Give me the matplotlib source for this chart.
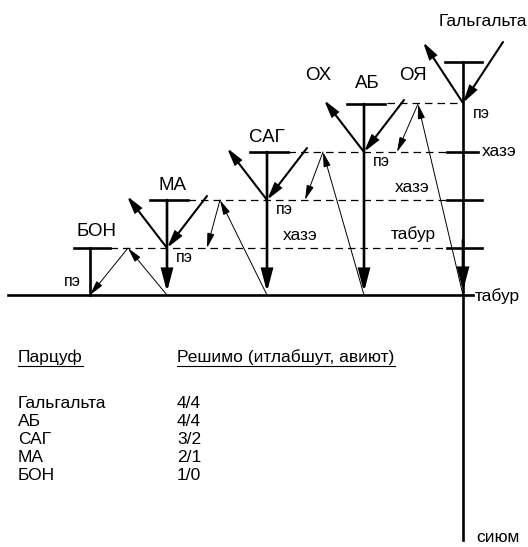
import matplotlib.pyplot as plt
from matplotlib.patches import FancyArrowPatch

plt.rcParams['font.family'] = ['Liberation Sans', 'DejaVu Sans']

# Table data
names = ['Гальгальта', 'АБ', 'САГ', 'МА', 'БОН']
reshimo = ['4/4', '4/4', '3/2', '2/1', '1/0']
col_titles = ['Парцуф', 'Решимо (итлабшут, авиют)']

# Diagram: partzufim (x of axis, y of top, y of pe)
parts = ['БОН', 'МА', 'САГ', 'АБ', 'Гальгальта']
part_x = [90, 167, 267, 364, 463]
part_top = [248, 200, 152, 104, 62]
part_pe = [295, 248, 200, 152, 103]

fig = plt.figure(figsize=(5.28, 5.47), dpi=100)
ax = fig.add_axes([0, 0, 1, 1])
ax.set_xlim(0, 528)
ax.set_ylim(547, 0)
ax.axis('off')

thick = 1.9
thin = 0.7


def arrow(p0, p1, lw, hl, hw):
    a = FancyArrowPatch(p0, p1, arrowstyle=f'-|>,head_length={hl},head_width={hw}',
                        lw=lw, color='black', shrinkA=0, shrinkB=0, joinstyle='miter')
    ax.add_patch(a)


# baseline (tabur)
ax.plot([8, 473], [295, 295], color='black', lw=thick)

# Galgalta line down to sium
ax.plot([463, 463], [62, 540], color='black', lw=thick)
arrow((463, 240), (463, 291), thick, 13, 3.4)

# ticks on Galgalta line
ax.plot([445, 482], [62, 62], color='black', lw=thick)
for yy, x1 in [(152, 478), (200, 482), (248, 482)]:
    ax.plot([447, x1], [yy, yy], color='black', lw=thick)

# dashed levels
ax.plot([387, 463], [103, 103], color='black', lw=0.9, ls=(0, (6, 4)))
ax.plot([288, 447], [152, 152], color='black', lw=0.9, ls=(0, (6, 4)))
ax.plot([188, 447], [200, 200], color='black', lw=0.9, ls=(0, (6, 4)))
ax.plot([110, 447], [248, 248], color='black', lw=0.9, ls=(0, (6, 4)))

# partzufim
for nm, x, top, pe in zip(parts, part_x, part_top, part_pe):
    if nm == 'БОН':
        ax.plot([x - 16, x + 20], [top, top], color='black', lw=thick)
        ax.plot([x, x], [top, pe], color='black', lw=thick)
        continue
    if nm != 'Гальгальта':
        ax.plot([x - 17, x + 21], [top, top], color='black', lw=thick)
        arrow((x, top), (x, 292), thick, 13, 3.4)
    # outgoing and incoming light
    dy = pe - top + 4 if nm != 'Гальгальта' else 61
    arrow((x, pe), (x - 40, pe - dy), 1.5, 10, 2.6)
    arrow((x + 40, pe - dy), (x, pe), 1.5, 10, 2.6)

# thin reflected arrows
thin_paths = [((167, 295), (128, 248), (90, 295)),
              ((267, 295), (220, 200), (207, 248)),
              ((364, 295), (323, 152), (305, 200)),
              ((463, 295), (418, 104), (397, 152))]
for a0, a1, a2 in thin_paths:
    arrow(a0, a1, thin, 9, 2.2)
    arrow(a1, a2, thin, 9, 2.2)

# labels
fl = 13.5
ax.text(483, 22, 'Гальгальта', fontsize=12.5, ha='center', va='center')
ax.text(318, 76, 'ОХ', fontsize=fl, ha='center', va='center')
ax.text(367, 84, 'АБ', fontsize=fl, ha='center', va='center')
ax.text(413, 76, 'ОЯ', fontsize=fl, ha='center', va='center')
ax.text(267, 138, 'САГ', fontsize=fl, ha='center', va='center')
ax.text(172, 185, 'МА', fontsize=fl, ha='center', va='center')
ax.text(96, 232, 'БОН', fontsize=fl, ha='center', va='center')

fs = 12.5
fs2 = 11.5
for (x, y, s) in [(473, 113, 'пэ'), (373, 161, 'пэ'), (276, 209, 'пэ'), (176, 257, 'пэ'),
                  (64, 282, 'пэ')]:
    ax.text(x, y, s, fontsize=fs2, ha='left', va='center')
ax.text(482, 152, 'хазэ', fontsize=fs, ha='left', va='center')
ax.text(395, 187, 'хазэ', fontsize=fs, ha='left', va='center')
ax.text(283, 235, 'хазэ', fontsize=fs, ha='left', va='center')
ax.text(391, 234, 'табур', fontsize=fs, ha='left', va='center')
ax.text(475, 296, 'табур', fontsize=fs, ha='left', va='center')
ax.text(476, 537, 'сиюм', fontsize=fs, ha='left', va='center')

# table
ax.text(18, 357, col_titles[0], fontsize=fs, ha='left', va='center')
ax.text(177, 357, col_titles[1], fontsize=fs, ha='left', va='center')
ax.plot([18, 83], [366, 366], color='black', lw=0.8)
ax.plot([177, 395], [366, 366], color='black', lw=0.8)
row_y = [404, 422, 440, 458, 476]
for nm, r, yy in zip(names, reshimo, row_y):
    ax.text(18, yy, nm, fontsize=fs, ha='left', va='center')
    ax.text(177, yy, r, fontsize=fs, ha='left', va='center')

fig.savefig('out.png', dpi=100)
